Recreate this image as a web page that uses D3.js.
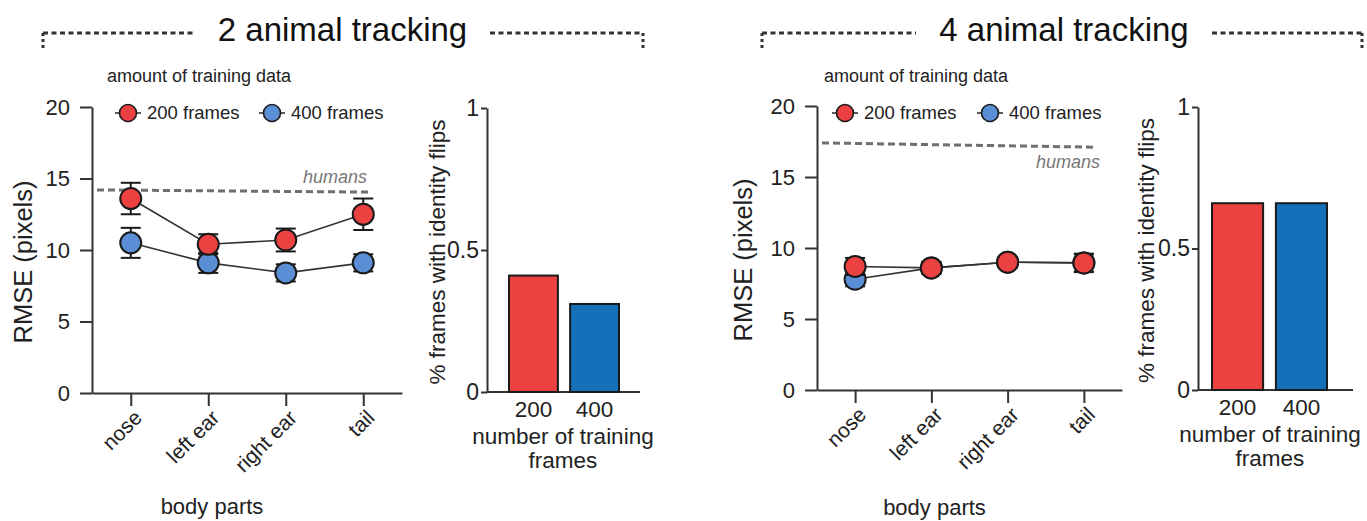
<!DOCTYPE html>
<html>
<head>
<meta charset="utf-8">
<script src="https://cdn.jsdelivr.net/npm/d3@7"></script>
<style>
  body { margin: 0; background: #fff; }
  svg { display: block; font-family: "Liberation Sans", Arial, sans-serif; }
  .axis path, .axis line { stroke: #333; stroke-width: 2; }
  .axis text { fill: #222; }
</style>
</head>
<body>
<div id="chart"></div>
<script>
// ---- data ----
const bodyParts = ["nose", "left ear", "right ear", "tail"];
const rmseTicks = [0, 5, 10, 15, 20];
const flipTicks = [0, 0.5, 1];
const trainingFrames = ["200", "400"];
const seriesNames = ["200 frames", "400 frames"];

// 2 animal tracking
const rmse2_200 = [13.6, 10.4, 10.7, 12.5];
const err2_200 = [1.1, 0.7, 0.8, 1.1];
const rmse2_400 = [10.5, 9.1, 8.4, 9.1];
const err2_400 = [1.05, 0.7, 0.6, 0.6];
const humans2 = [14.2, 14.05];
const flips2 = [0.41, 0.31];

// 4 animal tracking
const rmse4_200 = [8.7, 8.6, 9.0, 8.95];
const err4_200 = [0.6, 0.4, 0.3, 0.65];
const rmse4_400 = [7.8, 8.6, 9.0, 8.95];
const err4_400 = [0.5, 0.4, 0.3, 0.6];
const humans4 = [17.4, 17.1];
const flips4 = [0.66, 0.66];

const red = "#ec4141", blueDot = "#5a8fd5", blueBar = "#1470b9";
const ink = "#222";

let width = 1367, height = 521;

let svg = d3.select("#chart").append("svg")
    .attr("width", width)
    .attr("height", height);

function title(cfg) {
    let g = svg.append("g");
    [[cfg.left, cfg.textL - 20], [cfg.textR + 20, cfg.right]].forEach(seg => {
        g.append("line")
            .attr("x1", seg[0]).attr("x2", seg[1])
            .attr("y1", 33).attr("y2", 33)
            .attr("stroke", "#333").attr("stroke-width", 3)
            .attr("stroke-dasharray", "5,3.5");
    });
    [cfg.left, cfg.right].forEach(x => {
        g.append("line")
            .attr("x1", x).attr("x2", x)
            .attr("y1", 33).attr("y2", 49)
            .attr("stroke", "#333").attr("stroke-width", 3)
            .attr("stroke-dasharray", "3,3");
    });
    g.append("text")
        .attr("x", (cfg.textL + cfg.textR) / 2)
        .attr("y", 41)
        .attr("text-anchor", "middle")
        .style("font-size", "33px")
        .attr("fill", "#111")
        .text(cfg.text);
}

function linePanel(cfg) {
    let g = svg.append("g");
    let x = d3.scalePoint().domain(bodyParts).range([cfg.x0, cfg.x1]).padding(0.5);
    let y = d3.scaleLinear().domain([0, 20]).range([cfg.y0, cfg.y1]);

    // y axis
    let ya = g.append("g").attr("class", "axis")
        .attr("transform", "translate(" + cfg.x0 + ",0)")
        .call(d3.axisLeft(y).tickValues(rmseTicks).tickSize(12).tickPadding(10).tickSizeOuter(0));
    ya.selectAll("text").style("font-size", "22px");

    // x axis
    let xa = g.append("g").attr("class", "axis")
        .attr("transform", "translate(0," + cfg.y0 + ")")
        .call(d3.axisBottom(x).tickSize(13).tickSizeOuter(0));
    xa.selectAll("text")
        .style("font-size", "21px")
        .attr("text-anchor", "end")
        .attr("y", 0).attr("dy", 0)
        .attr("transform", "translate(12,26)rotate(-45)");

    g.append("text")
        .attr("transform", "translate(" + cfg.yLabelX + "," + ((cfg.y0 + cfg.y1) / 2 + 12) + ")rotate(-90)")
        .attr("text-anchor", "middle")
        .style("font-size", "25.5px").attr("fill", ink)
        .text("RMSE (pixels)");

    g.append("text")
        .attr("x", (cfg.x0 + cfg.x1) / 2 - 35)
        .attr("y", cfg.xLabelY)
        .attr("text-anchor", "middle")
        .style("font-size", "22px").attr("fill", ink)
        .text("body parts");

    // humans reference
    let hx = d3.scaleLinear().domain([0, 1]).range([cfg.x0 + 5, cfg.humansEnd]);
    g.append("line")
        .attr("x1", hx(0)).attr("x2", hx(1))
        .attr("y1", y(cfg.humans[0])).attr("y2", y(cfg.humans[1]))
        .attr("stroke", "#6f6f6f").attr("stroke-width", 3)
        .attr("stroke-dasharray", "7,4");
    g.append("text")
        .attr("x", cfg.humansEnd + cfg.humansDx)
        .attr("y", y(cfg.humans[1]) + cfg.humansDy)
        .attr("text-anchor", "end")
        .style("font-size", "18px").style("font-style", "italic")
        .attr("fill", "#777")
        .text("humans");

    // series: 400 first, 200 drawn on top
    let series = [
        {vals: cfg.s400, errs: cfg.e400, color: blueDot},
        {vals: cfg.s200, errs: cfg.e200, color: red}
    ];
    series.forEach(s => {
        let pts = bodyParts.map((b, i) => ({b: b, v: s.vals[i], e: s.errs[i]}));
        g.append("path")
            .datum(pts)
            .attr("fill", "none").attr("stroke", "#333").attr("stroke-width", 1.6)
            .attr("d", d3.line().x(d => x(d.b)).y(d => y(d.v)));
        let eb = g.selectAll(null).data(pts).enter().append("g")
            .attr("stroke", "#1a1a1a").attr("stroke-width", 2);
        eb.append("line")
            .attr("x1", d => x(d.b)).attr("x2", d => x(d.b))
            .attr("y1", d => y(d.v - d.e)).attr("y2", d => y(d.v + d.e));
        [-1, 1].forEach(sign => {
            eb.append("line")
                .attr("x1", d => x(d.b) - 10).attr("x2", d => x(d.b) + 10)
                .attr("y1", d => y(d.v + sign * d.e)).attr("y2", d => y(d.v + sign * d.e));
        });
        g.selectAll(null).data(pts).enter().append("circle")
            .attr("cx", d => x(d.b)).attr("cy", d => y(d.v))
            .attr("r", 10.5)
            .attr("fill", s.color)
            .attr("stroke", "#1a1a1a").attr("stroke-width", 2);
    });

    // legend
    let lg = g.append("g");
    lg.append("text")
        .attr("x", cfg.legendX - 21).attr("y", 82)
        .style("font-size", "18px").attr("fill", ink)
        .text("amount of training data");
    [red, blueDot].forEach((c, i) => {
        let cx = cfg.legendX + i * cfg.legendStep;
        lg.append("line")
            .attr("x1", cx - 13).attr("x2", cx + 13)
            .attr("y1", 113).attr("y2", 113)
            .attr("stroke", "#333").attr("stroke-width", 1.6);
        lg.append("circle")
            .attr("cx", cx).attr("cy", 113).attr("r", 8.5)
            .attr("fill", c).attr("stroke", "#1a1a1a").attr("stroke-width", 1.6);
        lg.append("text")
            .attr("x", cx + 19).attr("y", 119)
            .style("font-size", "18.5px").attr("fill", ink)
            .text(seriesNames[i]);
    });
}

function barPanel(cfg) {
    let g = svg.append("g");
    let x = d3.scaleBand().domain(trainingFrames).range([cfg.b0, cfg.b1]).paddingInner(0.2);
    let y = d3.scaleLinear().domain([0, 1]).range([cfg.y0, cfg.y1]);

    let ya = g.append("g").attr("class", "axis")
        .attr("transform", "translate(" + cfg.x0 + ",0)")
        .call(d3.axisLeft(y).tickValues(flipTicks).tickFormat(d3.format("")).tickSize(6).tickPadding(2).tickSizeOuter(0));
    ya.selectAll("text").style("font-size", "23px");

    g.append("line").attr("class", "axis")
        .attr("x1", cfg.x0).attr("x2", cfg.x1)
        .attr("y1", cfg.y0).attr("y2", cfg.y0)
        .attr("stroke", "#333").attr("stroke-width", 2);

    g.selectAll(null).data(trainingFrames).enter().append("rect")
        .attr("x", d => x(d))
        .attr("width", x.bandwidth())
        .attr("y", (d, i) => y(cfg.vals[i]))
        .attr("height", (d, i) => cfg.y0 - y(cfg.vals[i]))
        .attr("fill", (d, i) => i === 0 ? red : blueBar)
        .attr("stroke", "#1a1a1a").attr("stroke-width", 2);

    g.selectAll(null).data(trainingFrames).enter().append("text")
        .attr("x", d => x(d) + x.bandwidth() / 2)
        .attr("y", cfg.y0 + 25)
        .attr("text-anchor", "middle")
        .style("font-size", "22.5px").attr("fill", ink)
        .text(d => d);

    let xl = g.append("text")
        .attr("text-anchor", "middle")
        .style("font-size", "22.5px").attr("fill", ink);
    xl.append("tspan").attr("x", cfg.xLabelX).attr("y", cfg.y0 + 52).text("number of training");
    xl.append("tspan").attr("x", cfg.xLabelX).attr("y", cfg.y0 + 76).text("frames");

    g.append("text")
        .attr("transform", "translate(" + cfg.yLabelX + "," + ((cfg.y0 + cfg.y1) / 2 + 2) + ")rotate(-90)")
        .attr("text-anchor", "middle")
        .style("font-size", "22.5px").attr("fill", ink)
        .text("% frames with identity flips");
}

title({left: 43, right: 643, textL: 215, textR: 470, text: "2 animal tracking"});
title({left: 762, right: 1362, textL: 936, textR: 1192, text: "4 animal tracking"});

linePanel({
    x0: 92, x1: 402, y0: 393, y1: 107,
    s200: rmse2_200, e200: err2_200, s400: rmse2_400, e400: err2_400,
    humans: humans2, humansEnd: 370, humansDx: -3, humansDy: -9,
    yLabelX: 32, xLabelY: 514,
    legendX: 128, legendStep: 144
});
linePanel({
    x0: 817, x1: 1122, y0: 390, y1: 106,
    s200: rmse4_200, e200: err4_200, s400: rmse4_400, e400: err4_400,
    humans: humans4, humansEnd: 1095, humansDx: 5, humansDy: 21,
    yLabelX: 752, xLabelY: 515,
    legendX: 845, legendStep: 145
});

barPanel({x0: 487, x1: 640, b0: 509, b1: 619, y0: 392, y1: 108, vals: flips2, xLabelX: 563, yLabelX: 445});
barPanel({x0: 1198, x1: 1353, b0: 1212, b1: 1327, y0: 390, y1: 107, vals: flips4, xLabelX: 1270, yLabelX: 1154});
</script>
</body>
</html>
